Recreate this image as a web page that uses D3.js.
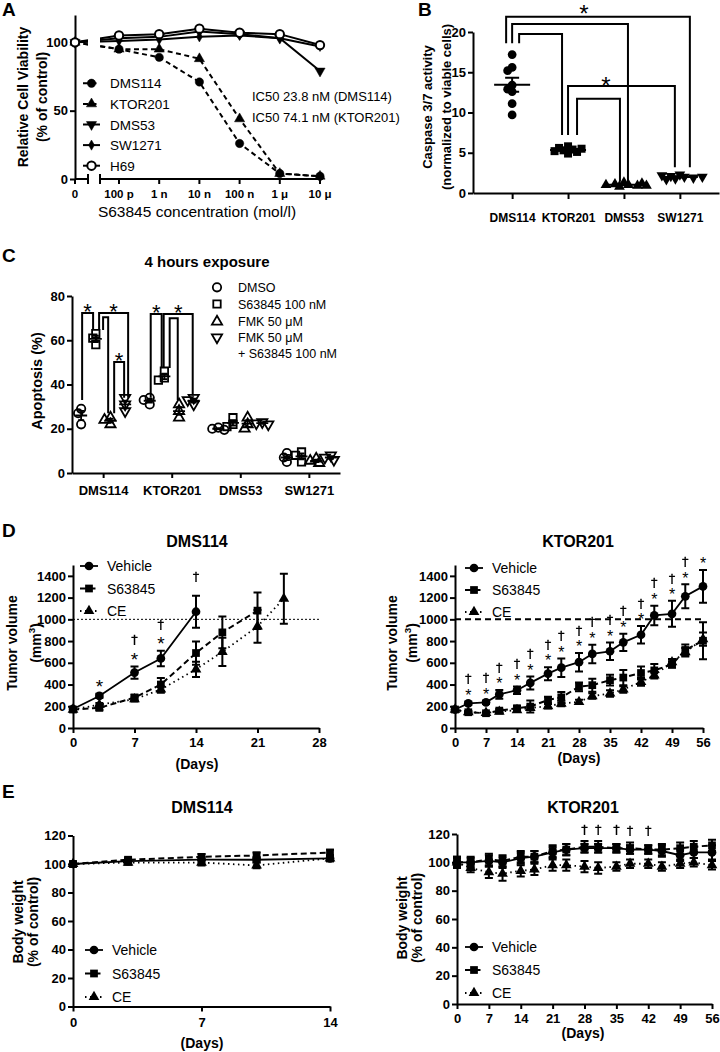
<!DOCTYPE html>
<html><head><meta charset="utf-8">
<script src="https://cdn.jsdelivr.net/npm/d3@7/dist/d3.min.js"></script>
<style>html,body{margin:0;padding:0;background:#fff;}</style>
</head><body>
<script>
// ================= DATA =================
// Panel A
const concA = [0, 1e-10, 1e-9, 1e-8, 1e-7, 1e-6, 1e-5];
const concLabelsA = ["0", "100 p", "1 n", "10 n", "100 n", "1 \u03bc", "10 \u03bc"];
const yTicksA = [0, 50, 100];
const linesA = ["DMS114", "KTOR201", "DMS53", "SW1271", "H69"];
const viabDMS114 = [100, 95, 89, 71, 26, 4, 2];
const viabKTOR201 = [100, 95, 95, 88, 44, 4, 2];
const viabDMS53 = [100, 103, 104, 108, 106, 103, 79];
const viabSW1271 = [100, 101, 102, 104, 105, 103, 97];
const viabH69 = [100, 105, 106, 110, 107, 106, 98];
const ic50Notes = ["IC50 23.8 nM (DMS114)", "IC50 74.1 nM (KTOR201)"];
const xTitleA = "S63845 concentration (mol/l)";
const yTitleA = ["Relative Cell Viability", "(% of control)"];

// Panel B
const catsB = ["DMS114", "KTOR201", "DMS53", "SW1271"];
const casDMS114 = [17.2, 15.6, 15.2, 13.4, 12.9, 12.6, 11.1, 9.7];
const casKTOR201 = [5.8, 5.6, 5.4, 5.3, 5.2, 5.1, 5.5, 4.9];
const casDMS53 = [1.3, 1.1, 1.0, 0.9, 1.0, 0.8, 1.2, 0.9];
const casSW1271 = [2.3, 2.1, 2.0, 1.9, 2.2, 1.8, 2.0, 1.7];
const yTicksB = [0, 5, 10, 15, 20];
const yTitleB = ["Caspase 3/7 activity", "(normalized to viable cells)"];

// Panel C
const catsC = ["DMS114", "KTOR201", "DMS53", "SW1271"];
const treatC = ["DMSO", "S63845 100 nM", "FMK 50 \u03bcM", "FMK 50 \u03bcM\n+ S63845 100 nM"];
const apopDMSO = [[29, 27, 22], [34, 33, 31], [20.5, 20, 19.5], [9, 7, 5]];
const apopS63845 = [[63, 61, 58], [46, 43, 42], [25, 22, 21], [9.5, 8, 5]];
const apopFMK = [[25, 24, 22], [31, 28, 25], [25, 22, 20], [6.5, 5.5, 4.5]];
const apopFMKS = [[34, 31, 28], [34, 33, 31], [23, 22.5, 22], [8, 7, 6]];
const yTicksC = [0, 20, 40, 60, 80];
const titleC = "4 hours exposure";
const yTitleC = "Apoptosis (%)";

// Panel D (tumor volume)
const daysDMS114Veh = [0, 3, 7, 10, 14];
const tumDMS114Veh = [175, 295, 510, 640, 1070];
const errDMS114Veh = [15, 20, 57, 71, 148];
const daysDMS114S = [0, 3, 7, 10, 14, 17, 21];
const tumDMS114S = [170, 185, 280, 400, 690, 880, 1080];
const errDMS114S = [15, 20, 25, 60, 107, 147, 168];
const daysDMS114CE = [0, 3, 7, 10, 14, 17, 21, 24];
const tumDMS114CE = [170, 215, 265, 355, 540, 700, 935, 1190];
const errDMS114CE = [10, 15, 20, 30, 70, 130, 150, 230];
const starDaysDMS114 = [3, 7, 10];
const daggerDaysDMS114 = [7, 10, 14];

const daysKTOR = [0, 3, 7, 10, 14, 17, 21, 24, 28, 31, 35, 38, 42, 45, 49, 52, 56];
const tumKTORVeh = [170, 227, 236, 309, 348, 415, 500, 555, 606, 682, 706, 788, 858, 1036, 1051, 1212, 1303];
const errKTORVeh = [10, 15, 15, 40, 35, 60, 60, 85, 85, 85, 80, 80, 80, 90, 120, 110, 150];
const tumKTORS = [170, 145, 136, 160, 182, 197, 258, 282, 379, 394, 440, 464, 506, 530, 585, 718, 803];
const errKTORS = [10, 10, 10, 15, 20, 55, 30, 50, 40, 60, 50, 70, 60, 60, 30, 50, 170];
const tumKTORCE = [170, 145, 140, 150, 165, 185, 200, 225, 240, 294, 318, 355, 424, 485, 606, 697, 818];
const errKTORCE = [10, 10, 10, 10, 15, 20, 20, 25, 20, 25, 30, 30, 35, 30, 30, 40, 60];
const starDaysKTOR = [3, 7, 10, 14, 17, 21, 24, 28, 31, 35, 38, 42, 45, 49, 52, 56];
const daggerDaysKTOR = [3, 7, 10, 14, 17, 21, 24, 28, 31, 35, 38, 42, 45, 49, 52];
const yTicksD = [0, 200, 400, 600, 800, 1000, 1200, 1400];
const xTicksDL = [0, 7, 14, 21, 28];
const xTicksR = [0, 7, 14, 21, 28, 35, 42, 49, 56];
const refVolume = 1000;

// Panel E (body weight)
const daysBWDMS114 = [0, 3, 7, 10, 14];
const bwDMS114Veh = [100, 102, 103, 103, 104];
const bwDMS114S = [100, 103, 105, 106, 108];
const bwDMS114CE = [100, 101, 101, 99, 104];
const errBWDMS114 = [1.5, 1.5, 2, 2, 2];
const bwKTORVeh = [100, 100, 101, 100, 103, 104, 107, 109, 110, 110, 110, 109, 109, 108, 105, 107, 107];
const bwKTORS = [100, 100, 102, 101, 104, 104, 108, 109, 111, 111, 110, 110, 109, 109, 110, 111, 112];
const bwKTORCE = [100, 96, 93, 92, 94, 95, 98, 98, 97, 96, 97, 99, 99, 97, 99, 100, 98];
const errBWKTORVeh = [4, 3, 4, 4, 4, 4, 4, 4, 3, 3, 3, 3, 3, 4, 4, 4, 5];
const errBWKTORS = [4, 4, 4, 4, 4, 4, 4, 4, 4, 4, 3, 4, 3, 4, 4, 4, 4];
const errBWKTORCE = [3, 3, 4, 5, 4, 4, 4, 4, 4, 4, 3, 3, 3, 3, 3, 3, 3];
const daggerDaysBWKTOR = [28, 31, 35, 38, 42];
const yTicksE = [0, 20, 40, 60, 80, 100, 120];
const xTicksEL = [0, 7, 14];
const groupNames = ["Vehicle", "S63845", "CE"];

// ================= DRAWING =================
const FONT = "'Liberation Sans', Arial, Helvetica, sans-serif";
const svg = d3.select("body").append("svg").attr("width", 720).attr("height", 1052);
svg.append("rect").attr("width", 720).attr("height", 1052).attr("fill", "#fff");
const defs = svg.append("defs");
defs.append("filter").attr("id", "gray").attr("x", "-50%").attr("y", "-50%").attr("width", "200%").attr("height", "200%")
  .append("feColorMatrix").attr("type", "saturate").attr("values", 0);
const fmt = d3.format("d");

const SYMS = {circle: d3.symbolCircle, square: d3.symbolSquare, tri: d3.symbolTriangle, tridown: d3.symbolTriangle, diamond: d3.symbolDiamond};
const symPath = (t, s) => d3.symbol(SYMS[t], s)();
const symTr = (t, x, y) => `translate(${x},${y})` + (t === "tridown" ? " rotate(180)" : "");

function T(g, x, y, s, size, bold, anchor, family) {
  return g.append("text").attr("x", x).attr("y", y).text(s).attr("font-family", family || FONT)
    .attr("font-size", size).attr("font-weight", bold ? "bold" : "normal")
    .attr("text-anchor", anchor || "start").attr("fill", "#000");
}
function yTitle(g, xs, cy, lines, size) {
  lines.forEach((s, i) => {
    const t = g.append("text").attr("transform", `translate(${xs[i]},${cy}) rotate(-90)`)
      .attr("text-anchor", "middle").attr("font-family", FONT).attr("font-size", size)
      .attr("font-weight", "bold").attr("fill", "#000");
    const m = s.match(/^(.*)\^(\d)(.*)$/);
    if (m) {
      t.append("tspan").text(m[1]);
      t.append("tspan").attr("dy", -6).attr("font-size", size * 0.7).text(m[2]);
      t.append("tspan").attr("dy", 6).text(m[3]);
    } else t.text(s);
  });
}
function styleAxis(sel, fs) {
  sel.select(".domain").attr("stroke", "#000").attr("stroke-width", 2);
  sel.selectAll(".tick line").attr("stroke", "#000").attr("stroke-width", 2);
  sel.selectAll(".tick text").attr("font-family", FONT).attr("font-weight", "bold")
    .attr("font-size", fs).attr("fill", "#000");
}
function dodge(vals, y, dist, step) {
  const placed = [];
  return vals.map(v => {
    const py = y(v);
    let off = 0;
    for (let k = 0; k < 40; k++) {
      const c = k === 0 ? 0 : (k % 2 ? -1 : 1) * Math.ceil(k / 2) * step;
      if (placed.every(p => Math.hypot(p.x - c, p.y - py) >= dist)) { off = c; break; }
    }
    placed.push({x: off, y: py});
    return off;
  });
}
function star(g, x, cy, size) {
  T(g, x, cy + 0.575 * size, "*", size, false, "middle");
}
function dagger(g, x, cy, size) {
  // grayscale filter removes colour fringes of sub-pixel text antialiasing on thin glyphs
  const gg = g.append("g").attr("filter", "url(#gray)");
  T(gg, x, cy + 0.29 * size, "\u2020", size, false, "middle", "'DejaVu Sans', 'Noto Sans', sans-serif")
    .attr("stroke", "#000").attr("stroke-width", 0.3);
}
function letter(x, y, s) { T(svg, x, y, s, 19, true, "start"); }

// ---------------- Panel A ----------------
(function () {
  const g = svg.append("g");
  letter(2, 16, "A");
  const yA = d3.scaleLinear().domain([0, 120]).range([179, 15]);
  const xLog = d3.scaleLog().domain([1e-10, 1e-5]).range([119, 320]);
  const xA = c => c === 0 ? 75 : xLog(c);
  const bL = 88, bR = 100;
  g.append("g").attr("transform", "translate(75,0)")
    .call(d3.axisLeft(yA).tickValues(yTicksA).tickFormat(fmt).tickSize(5).tickSizeOuter(0).tickPadding(2))
    .call(styleAxis, 13);
  const ax = g.append("g");
  ax.append("path").attr("d", `M75,179H${bL}M${bR},179H320`).attr("stroke", "#000").attr("stroke-width", 2).attr("fill", "none");
  ax.selectAll(".bk").data([bL, bR]).join("line").attr("x1", d => d).attr("x2", d => d)
    .attr("y1", 174).attr("y2", 184).attr("stroke", "#000").attr("stroke-width", 2);
  ax.selectAll(".tk").data(concA).join("line").attr("x1", d => xA(d)).attr("x2", d => xA(d))
    .attr("y1", 179).attr("y2", 184).attr("stroke", "#000").attr("stroke-width", 2);
  ax.selectAll(".tl").data(concA).join("text").attr("x", d => xA(d)).attr("y", 198)
    .text((d, i) => concLabelsA[i]).attr("text-anchor", "middle").attr("font-family", FONT)
    .attr("font-weight", "bold").attr("font-size", 11.5);
  T(g, 197, 217, xTitleA, 15.5, false, "middle");
  yTitle(g, [28, 47], 97, yTitleA, 14);
  ic50Notes.forEach((s, i) => T(g, 252, 101 + i * 21, s, 13, false, "start"));

  const clip = defs.append("clipPath").attr("id", "clipA");
  clip.append("rect").attr("x", 0).attr("y", 0).attr("width", bL).attr("height", 200);
  clip.append("rect").attr("x", bR).attr("y", 0).attr("width", 300).attr("height", 200);

  const seriesA = [
    {name: linesA[0], vals: viabDMS114, sym: "circle", fill: true, dash: "5,3.5", sz: 55},
    {name: linesA[1], vals: viabKTOR201, sym: "tri", fill: true, dash: "5,3.5", sz: 45},
    {name: linesA[2], vals: viabDMS53, sym: "tridown", fill: true, dash: null, sz: 45},
    {name: linesA[3], vals: viabSW1271, sym: "diamond", fill: true, dash: null, sz: 30},
    {name: linesA[4], vals: viabH69, sym: "circle", fill: false, dash: null, sz: 55},
  ];
  const line = d3.line().x(p => xA(p.c)).y(p => yA(p.v));
  seriesA.forEach(s => {
    const pts = concA.map((c, i) => ({c, v: s.vals[i]}));
    g.append("path").datum(pts).attr("clip-path", "url(#clipA)").attr("d", line)
      .attr("fill", "none").attr("stroke", "#000").attr("stroke-width", 2)
      .attr("stroke-dasharray", s.dash);
  });
  seriesA.forEach(s => {
    const pts = concA.map((c, i) => ({c, v: s.vals[i]}));
    g.selectAll(null).data(pts).join("path").attr("d", symPath(s.sym, s.sz))
      .attr("transform", p => symTr(s.sym, xA(p.c), yA(p.v)))
      .attr("fill", s.fill ? "#000" : "#fff").attr("stroke", "#000").attr("stroke-width", s.fill ? 0.5 : 2);
  });
  const lg = g.selectAll(".lgA").data(seriesA).join("g")
    .attr("transform", (d, i) => `translate(0,${83.3 + i * 20.6})`);
  lg.append("line").attr("x1", 83).attr("x2", 100).attr("y1", 0).attr("y2", 0)
    .attr("stroke", "#000").attr("stroke-width", 2).attr("stroke-dasharray", d => d.dash);
  lg.append("path").attr("d", d => symPath(d.sym, d.sz)).attr("transform", d => symTr(d.sym, 91.5, 0))
    .attr("fill", d => d.fill ? "#000" : "#fff").attr("stroke", "#000").attr("stroke-width", d => d.fill ? 0.5 : 2);
  lg.append("text").attr("x", 110).attr("y", 5).text(d => d.name).attr("font-family", FONT).attr("font-size", 13.5);
})();

// ---------------- Panel B ----------------
(function () {
  const g = svg.append("g");
  letter(418, 16, "B");
  const yB = d3.scaleLinear().domain([0, 20]).range([193, 32]);
  const xB = d3.scalePoint().domain(catsB).range([473, 719]).padding(0.7);
  g.append("g").attr("transform", "translate(473,0)")
    .call(d3.axisLeft(yB).tickValues(yTicksB).tickFormat(fmt).tickSize(5).tickSizeOuter(0).tickPadding(2)).call(styleAxis, 13);
  g.append("g").attr("transform", "translate(0,193)")
    .call(d3.axisBottom(xB).tickSize(6).tickSizeOuter(0).tickPadding(14)).call(styleAxis, 12);
  yTitle(g, [432, 451], 107, yTitleB, 13);

  const groups = [
    {cat: catsB[0], vals: casDMS114, sym: "circle", sz: 60},
    {cat: catsB[1], vals: casKTOR201, sym: "square", sz: 64},
    {cat: catsB[2], vals: casDMS53, sym: "tri", sz: 50},
    {cat: catsB[3], vals: casSW1271, sym: "tridown", sz: 50},
  ];
  groups.forEach(gr => {
    const cx = xB(gr.cat);
    const m = d3.mean(gr.vals), sem = d3.deviation(gr.vals) / Math.sqrt(gr.vals.length);
    g.append("path").attr("d", `M${cx - 18},${yB(m)}H${cx + 18}M${cx},${yB(m - sem)}V${yB(m + sem)}M${cx - 7},${yB(m - sem)}H${cx + 7}M${cx - 7},${yB(m + sem)}H${cx + 7}`)
      .attr("stroke", "#000").attr("stroke-width", 2).attr("fill", "none");
    const offs = dodge(gr.vals, yB, 5, 4.5);
    g.selectAll(null).data(gr.vals).join("path").attr("d", symPath(gr.sym, gr.sz))
      .attr("transform", (v, i) => symTr(gr.sym, cx + offs[i], yB(v))).attr("fill", "#000");
  });
  const brackets = [
    {a: "DMS114", da: -6, b: "SW1271", db: 10, top: 21.9, ya: 18.6, yb: 3.2},
    {a: "DMS114", da: 0, b: "DMS53", db: 4, top: 21.0, ya: 18.6, yb: 1.4},
    {a: "DMS114", da: 7, b: "KTOR201", db: -6, top: 19.75, ya: 18.6, yb: 7.2},
    {a: "KTOR201", da: 0, b: "SW1271", db: -5, top: 13.3, ya: 7.2, yb: 3.2},
    {a: "KTOR201", da: 9, b: "DMS53", db: -4, top: 11.7, ya: 7.2, yb: 1.4},
  ];
  g.selectAll(".brB").data(brackets).join("path")
    .attr("d", d => `M${xB(d.a) + d.da},${yB(d.ya)}V${yB(d.top)}H${xB(d.b) + d.db}V${yB(d.yb)}`)
    .attr("fill", "none").attr("stroke", "#000").attr("stroke-width", 2);
  const ctr = d => (xB(d.a) + d.da + xB(d.b) + d.db) / 2;
  star(g, (ctr(brackets[0]) + ctr(brackets[1])) / 2, 8, 24);
  star(g, (ctr(brackets[3]) + ctr(brackets[4])) / 2 - 4, 80.5, 24);
})();

// ---------------- Panel C ----------------
(function () {
  const g = svg.append("g");
  letter(2, 262, "C");
  T(g, 207, 267, titleC, 15, true, "middle");
  const yC = d3.scaleLinear().domain([0, 80]).range([473, 296]);
  const xC = d3.scalePoint().domain(catsC).range([72, 340]).padding(0.454);
  const off = d3.scalePoint().domain(treatC).range([-22, 22]);
  g.append("g").attr("transform", "translate(72,0)")
    .call(d3.axisLeft(yC).tickValues(yTicksC).tickFormat(fmt).tickSize(5).tickSizeOuter(0).tickPadding(2)).call(styleAxis, 13);
  g.append("g").attr("transform", "translate(0,473)")
    .call(d3.axisBottom(xC).tickSize(5).tickSizeOuter(0).tickPadding(8)).call(styleAxis, 13);
  yTitle(g, [42], 381, [yTitleC], 14.5);
  const tr = [
    {name: treatC[0], data: apopDMSO, sym: "circle", sz: 55},
    {name: treatC[1], data: apopS63845, sym: "square", sz: 55},
    {name: treatC[2], data: apopFMK, sym: "tri", sz: 45},
    {name: treatC[3], data: apopFMKS, sym: "tridown", sz: 45},
  ];
  tr.forEach(t => {
    catsC.forEach((c, ci) => {
      const vals = t.data[ci];
      const cx = xC(c) + off(t.name);
      const m = d3.mean(vals), sem = d3.deviation(vals) / Math.sqrt(vals.length);
      g.append("path").attr("d", `M${cx - 6},${yC(m)}H${cx + 6}M${cx},${yC(m - sem)}V${yC(m + sem)}M${cx - 3},${yC(m - sem)}H${cx + 3}M${cx - 3},${yC(m + sem)}H${cx + 3}`)
        .attr("stroke", "#000").attr("stroke-width", 1.8).attr("fill", "none");
      const offs = dodge(vals, yC, 4.5, 3);
      g.selectAll(null).data(vals).join("path").attr("d", symPath(t.sym, t.sz))
        .attr("transform", (v, i) => symTr(t.sym, cx + offs[i], yC(v)))
        .attr("fill", "none").attr("stroke", "#000").attr("stroke-width", 1.8);
    });
  });
  const br = [
    {cat: "DMS114", a: 0, da: 1, b: 1, db: -2.7, top: 72.3, ya: 33, yb: 64.6, star: true},
    {cat: "DMS114", a: 1, da: 3.3, b: 3, db: 3, top: 72.3, ya: 64.6, yb: 34, star: true},
    {cat: "DMS114", a: 1, da: 7.3, b: 2, db: -2.3, top: 70.4, ya: 64.6, yb: 27, star: false},
    {cat: "DMS114", a: 2, da: 3.7, b: 3, db: -1, top: 50.2, ya: 27, yb: 34, star: true},
    {cat: "KTOR201", a: 0, da: 1, b: 1, db: -2.7, top: 71.9, ya: 34, yb: 47.5, star: true},
    {cat: "KTOR201", a: 1, da: -0.7, b: 3, db: -1, top: 71.9, ya: 47.5, yb: 35, star: true},
    {cat: "KTOR201", a: 1, da: 5.3, b: 2, db: -1.3, top: 70, ya: 47.5, yb: 33, star: false},
  ];
  const bx = (d, w) => xC(d.cat) + off(treatC[d[w]]) + d["d" + w];
  g.selectAll(".brC").data(br).join("path")
    .attr("d", d => `M${bx(d, "a")},${yC(d.ya)}V${yC(d.top)}H${bx(d, "b")}V${yC(d.yb)}`)
    .attr("fill", "none").attr("stroke", "#000").attr("stroke-width", 2);
  br.filter(d => d.star).forEach(d => star(g, (bx(d, "a") + bx(d, "b")) / 2, yC(d.top) - 6.5, 22));
  const lg = g.selectAll(".lgC").data(tr).join("g")
    .attr("transform", (d, i) => `translate(0,${[287.3, 304, 321.7, 337.3][i]})`);
  lg.append("path").attr("d", d => symPath(d.sym, d.sz)).attr("transform", d => symTr(d.sym, 217, 0))
    .attr("fill", "none").attr("stroke", "#000").attr("stroke-width", 1.8);
  lg.each(function (d) {
    d.name.split("\n").forEach((s, k) => T(d3.select(this), 238, 4.5 + k * 16.5, s, 12.5, false, "start"));
  });
})();

// ---------------- Line panels (D, E) ----------------
const LSTY = {
  Vehicle: {sym: "circle", dash: null, w: 1.8, sz: 60},
  S63845: {sym: "square", dash: "6,3.5", w: 2, sz: 60},
  CE: {sym: "tri", dash: "1.5,3.5", w: 1.8, sz: 50},
};
function linePanel(c) {
  const g = svg.append("g");
  const x = c.x, y = c.y;
  g.append("g").attr("transform", `translate(0,${y.range()[0]})`)
    .call(d3.axisBottom(x).tickValues(c.xTicks).tickFormat(fmt).tickSize(5).tickSizeOuter(0).tickPadding(c.xPad)).call(styleAxis, 13);
  g.append("g").attr("transform", `translate(${x.range()[0]},0)`)
    .call(d3.axisLeft(y).tickValues(c.yTicks).tickFormat(fmt).tickSize(5).tickSizeOuter(0).tickPadding(2)).call(styleAxis, 13);
  if (c.ref) g.append("line").attr("x1", x.range()[0]).attr("x2", x.range()[1])
    .attr("y1", y(c.ref.v)).attr("y2", y(c.ref.v)).attr("stroke", "#000")
    .attr("stroke-width", c.ref.w).attr("stroke-dasharray", c.ref.dash);
  T(g, c.title.x, c.title.y, c.title.text, 16, true, "middle");
  T(g, c.xTitle.x, c.xTitle.y, "(Days)", 14, true, "middle");
  yTitle(g, c.yTitle.xs, c.yTitle.cy, c.yTitle.lines, 14);
  const ser = c.series.slice().reverse();
  ser.forEach(s => {
    const st = LSTY[s.name];
    const pts = s.days.map((d, i) => ({d, v: s.vals[i], e: s.errs[i]}));
    g.append("path").datum(pts).attr("d", d3.line().x(p => x(p.d)).y(p => y(p.v)))
      .attr("fill", "none").attr("stroke", "#000").attr("stroke-width", st.w).attr("stroke-dasharray", st.dash);
    g.selectAll(null).data(pts).join("path")
      .attr("d", p => { const X = x(p.d), t = y(p.v + p.e), b = y(p.v - p.e);
        return `M${X},${b}V${t}M${X - 4},${t}H${X + 4}M${X - 4},${b}H${X + 4}`; })
      .attr("stroke", "#000").attr("stroke-width", 2).attr("fill", "none");
    g.selectAll(null).data(pts).join("path").attr("d", symPath(st.sym, st.sz))
      .attr("transform", p => symTr(st.sym, x(p.d), y(p.v))).attr("fill", "#000");
  });
  const v = c.series[0];
  const topOf = d => { const i = v.days.indexOf(d); return y(v.vals[i] + v.errs[i]); };
  const a = c.annot;
  (a.stars || []).forEach(d => star(g, x(d), topOf(d) - a.starOff, a.starSize));
  (a.daggers || []).forEach(d => {
    const hasStar = (a.stars || []).includes(d);
    dagger(g, x(d), topOf(d) - (hasStar ? a.dagOff : a.dagAlone), 13);
  });
  const lg = g.selectAll(null).data(c.series).join("g")
    .attr("transform", (d, i) => `translate(0,${c.legend.y0 + i * c.legend.dy})`);
  lg.append("line").attr("x1", c.legend.x0).attr("x2", c.legend.x0 + 18).attr("y1", 0).attr("y2", 0)
    .attr("stroke", "#000").attr("stroke-width", d => LSTY[d.name].w).attr("stroke-dasharray", d => LSTY[d.name].dash);
  lg.append("path").attr("d", d => symPath(LSTY[d.name].sym, LSTY[d.name].sz))
    .attr("transform", d => symTr(LSTY[d.name].sym, c.legend.x0 + 9, 0)).attr("fill", "#000");
  lg.append("text").attr("x", c.legend.x0 + 27).attr("y", 5).text(d => d.name)
    .attr("font-family", FONT).attr("font-size", 14);
}

letter(2, 537, "D");
linePanel({
  x: d3.scaleLinear().domain([0, 28]).range([73, 319]),
  y: d3.scaleLinear().domain([0, 1500]).range([728, 565]),
  xTicks: xTicksDL, yTicks: yTicksD, xPad: 5,
  ref: {v: refVolume, w: 1, dash: "2,2"},
  title: {text: "DMS114", x: 197, y: 547},
  xTitle: {x: 197, y: 769},
  yTitle: {xs: [17, 41], cy: 643, lines: ["Tumor volume", "(mm^3)"]},
  series: [
    {name: groupNames[0], days: daysDMS114Veh, vals: tumDMS114Veh, errs: errDMS114Veh},
    {name: groupNames[1], days: daysDMS114S, vals: tumDMS114S, errs: errDMS114S},
    {name: groupNames[2], days: daysDMS114CE, vals: tumDMS114CE, errs: errDMS114CE},
  ],
  annot: {stars: starDaysDMS114, daggers: daggerDaysDMS114, starSize: 19, starOff: 11.5, dagOff: 26, dagAlone: 18},
  legend: {x0: 80, y0: 566, dy: 22.5},
});
linePanel({
  x: d3.scaleLinear().domain([0, 56]).range([455, 703]),
  y: d3.scaleLinear().domain([0, 1500]).range([728, 565]),
  xTicks: xTicksR, yTicks: yTicksD, xPad: 5,
  ref: {v: refVolume, w: 2, dash: "6,4"},
  title: {text: "KTOR201", x: 578, y: 547},
  xTitle: {x: 579, y: 763},
  yTitle: {xs: [397, 417], cy: 643, lines: ["Tumor volume", "(mm^3)"]},
  series: [
    {name: groupNames[0], days: daysKTOR, vals: tumKTORVeh, errs: errKTORVeh},
    {name: groupNames[1], days: daysKTOR, vals: tumKTORS, errs: errKTORS},
    {name: groupNames[2], days: daysKTOR, vals: tumKTORCE, errs: errKTORCE},
  ],
  annot: {stars: starDaysKTOR, daggers: daggerDaysKTOR, starSize: 16, starOff: 10, dagOff: 22, dagAlone: 15},
  legend: {x0: 465, y0: 568, dy: 22},
});

letter(2, 798, "E");
linePanel({
  x: d3.scaleLinear().domain([0, 14]).range([73, 330]),
  y: d3.scaleLinear().domain([0, 120]).range([1006.5, 835.5]),
  xTicks: xTicksEL, yTicks: yTicksE, xPad: 6,
  ref: null,
  title: {text: "DMS114", x: 202, y: 813},
  xTitle: {x: 202, y: 1048},
  yTitle: {xs: [23, 38], cy: 922, lines: ["Body weight", "(% of control)"]},
  series: [
    {name: groupNames[0], days: daysBWDMS114, vals: bwDMS114Veh, errs: errBWDMS114},
    {name: groupNames[1], days: daysBWDMS114, vals: bwDMS114S, errs: errBWDMS114},
    {name: groupNames[2], days: daysBWDMS114, vals: bwDMS114CE, errs: errBWDMS114},
  ],
  annot: {},
  legend: {x0: 85, y0: 950, dy: 23.5},
});
linePanel({
  x: d3.scaleLinear().domain([0, 56]).range([457, 712]),
  y: d3.scaleLinear().domain([0, 120]).range([1004, 834]),
  xTicks: xTicksR, yTicks: yTicksE, xPad: 4.5,
  ref: null,
  title: {text: "KTOR201", x: 583, y: 813},
  xTitle: {x: 583, y: 1038},
  yTitle: {xs: [407, 422], cy: 918, lines: ["Body weight", "(% of control)"]},
  series: [
    {name: groupNames[0], days: daysKTOR, vals: bwKTORVeh, errs: errBWKTORVeh},
    {name: groupNames[1], days: daysKTOR, vals: bwKTORS, errs: errBWKTORS},
    {name: groupNames[2], days: daysKTOR, vals: bwKTORCE, errs: errBWKTORCE},
  ],
  annot: {daggers: daggerDaysBWKTOR, dagAlone: 14},
  legend: {x0: 465, y0: 947, dy: 23},
});
</script>
</body></html>
